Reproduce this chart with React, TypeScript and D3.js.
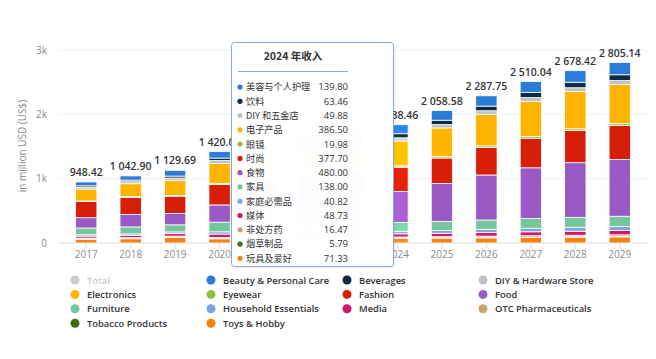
import React from "react";
import * as d3 from "d3";

const years = ["2017","2018","2019","2020","2021","2022","2023","2024","2025","2026","2027","2028","2029"];
const totals = [948.42, 1042.90, 1129.69, 1420.05, 1530.12, 1638.77, 1739.30, 1838.46, 2058.58, 2287.75, 2510.04, 2678.42, 2805.14];
const totalLabels = ["948.42","1 042.90","1 129.69","1 420.05","1 530.12","1 638.77","1 739.30","1 838.46","2 058.58","2 287.75","2 510.04","2 678.42","2 805.14"];

const seriesNames = ["Toys & Hobby","Tobacco Products","OTC Pharmaceuticals","Media","Household Essentials","Furniture","Food","Fashion","Eyewear","Electronics","DIY & Hardware Store","Beverages","Beauty & Personal Care"];
const seriesColors = ["#f5820f","#3d6b0f","#c9a071","#d4146d","#7aa7e0","#74c69d","#9b59c6","#d61f06","#8fc23a","#ffb400","#c2c2c2","#0f2a44","#2b7bd9"];

const toys = [58.42, 65.9, 88.19, 65, 68, 70, 66.6, 71.33, 75, 80, 85, 90, 95];
const tobacco = [4, 4, 4.5, 5, 5, 5.5, 5.7, 5.79, 6, 6.5, 7, 7.5, 8];
const otc = [14, 14, 15, 17, 15, 16, 16, 16.47, 18, 20, 22, 23, 24];
const media = [30, 34, 38, 52, 45, 46, 47, 48.73, 52, 56, 60, 63, 66];
const household = [22, 24, 27, 35, 35, 38, 40, 40.82, 45, 50, 55, 60, 63];
const furniture = [105, 108, 110, 150, 135, 135, 137, 138.00, 140, 145, 150, 155, 160];
const food = [160, 195, 175, 268.05, 341.12, 381.27, 440, 480.00, 590, 700, 790, 850, 880];
const fashion = [250, 265, 270, 320, 340, 355, 365, 377.70, 395, 430, 460, 500, 530];
const eyewear = [10, 11, 12, 15, 16, 18, 19, 19.98, 21, 23, 25, 27, 29];
const electronics = [185, 200, 230, 310, 330, 350, 365, 386.50, 446.58, 490.25, 548.04, 577.92, 608.14];
const diy = [28, 32, 40, 45, 45, 47, 48, 49.88, 52, 55, 58, 60, 62];
const beverages = [22, 25, 30, 38, 45, 55, 60, 63.46, 68, 72, 80, 85, 90];
const beauty = [60, 65, 90, 100, 110, 122, 130, 139.80, 150, 160, 170, 180, 190];

const seriesValues = [toys, tobacco, otc, media, household, furniture, food, fashion, eyewear, electronics, diy, beverages, beauty];

const yTicks = [0, 1000, 2000, 3000];
const yTickLabels = ["0", "1k", "2k", "3k"];

const tooltipTitle = "2024 年收入";
const tooltipLabels = ["美容与个人护理","饮料","DIY 和五金店","电子产品","眼镜","时尚","食物","家具","家庭必需品","媒体","非处方药","烟草制品","玩具及爱好"];
const tooltipValues = ["139.80","63.46","49.88","386.50","19.98","377.70","480.00","138.00","40.82","48.73","16.47","5.79","71.33"];
const tooltipColors = ["#2b7bd9","#0f2a44","#c2c2c2","#ffb400","#8fc23a","#d61f06","#9b59c6","#74c69d","#7aa7e0","#d4146d","#c9a071","#3d6b0f","#f5820f"];

const legendItems = ["Total","Beauty & Personal Care","Beverages","DIY & Hardware Store","Electronics","Eyewear","Fashion","Food","Furniture","Household Essentials","Media","OTC Pharmaceuticals","Tobacco Products","Toys & Hobby"];
const legendColors = ["#cccccc","#2b7bd9","#0f2a44","#c2c2c2","#ffb400","#8fc23a","#d61f06","#9b59c6","#74c69d","#7aa7e0","#d4146d","#c9a071","#3d6b0f","#f5820f"];

const W = 656, H = 359;
const FONT = "'Open Sans', 'Noto Sans CJK SC', sans-serif";
const CJK = "'Noto Sans CJK SC', 'Open Sans', sans-serif";

export default function App() {
  const x = d3.scaleBand<string>().domain(years).range([64, 642]).paddingInner(0.52).paddingOuter(0.26);
  const y = d3.scaleLinear().domain([0, 3000]).range([243, 50]);

  const table = years.map((yr, i) => {
    const row: any = { year: yr };
    seriesNames.forEach((n, s) => (row[n] = seriesValues[s][i]));
    return row;
  });
  const stacked = d3.stack<any>().keys(seriesNames)(table);
  const hovered = "2024";

  return (
    <svg width={W} height={H} style={{ position: "absolute", left: 0, top: 0, background: "#fff" }} fontFamily={FONT}>
      {yTicks.map((t, i) => (
        <g key={t}>
          <line x1={58} x2={648} y1={y(t)} y2={y(t)} stroke={t === 0 ? "#d8dde4" : "#eef0f3"} strokeWidth={1} />
          <text x={47} y={y(t) + 3.5} textAnchor="end" fontSize={10} fill="#8a8a8a">{yTickLabels[i]}</text>
        </g>
      ))}
      <text transform={`translate(26,146) rotate(-90)`} textAnchor="middle" fontSize={10} fill="#8a8a8a">in million USD (US$)</text>
      {years.map((yr) => (
        <g key={yr}>
          <line x1={x(yr)! + x.bandwidth() / 2} x2={x(yr)! + x.bandwidth() / 2} y1={243} y2={248} stroke="#d8dde4" />
          <text x={x(yr)! + x.bandwidth() / 2} y={258} textAnchor="middle" fontSize={10} fill="#8a8a8a">{yr}</text>
        </g>
      ))}
      {stacked.map((layer, s) => (
        <g key={layer.key}>
          {layer.map((d, i) => {
            const yr = years[i];
            const col = yr === hovered ? d3.color(seriesColors[s])!.brighter(0.25).formatHex() : seriesColors[s];
            return (
              <rect key={yr} x={x(yr)} width={x.bandwidth()} y={y(d[1])} height={Math.max(0, y(d[0]) - y(d[1]))}
                fill={col} stroke="#fff" strokeWidth={0.8} />
            );
          })}
        </g>
      ))}
      {years.map((yr, i) => (
        <text key={yr} x={x(yr)! + x.bandwidth() / 2} y={y(totals[i]) - 6} textAnchor="middle" fontSize={10.5} fontWeight={600} fill="#333">{totalLabels[i]}</text>
      ))}
      {legendItems.map((name, i) => {
        const col = i % 4, row = Math.floor(i / 4);
        const lx = 75 + col * 136, ly = 280 + row * 14.4;
        return (
          <g key={name}>
            <circle cx={lx} cy={ly} r={4.5} fill={legendColors[i]} />
            <text x={lx + 12} y={ly + 3.5} fontSize={9.4} fontWeight={600} fill={i === 0 ? "#c8c8c8" : "#333"}>{name}</text>
          </g>
        );
      })}
      <g>
        <rect x={232} y={43} width={162} height={224} rx={3} fill="#000" opacity={0.05} transform="translate(1.5,1.5)" />
        <rect x={231.5} y={42.5} width={162} height={224} rx={3} fill="#fff" fillOpacity={0.985} stroke="#86a9d8" strokeWidth={1} />
        <text x={293} y={60} textAnchor="middle" fontSize={10.5} fontWeight={700} fill="#333" fontFamily={CJK}>{tooltipTitle}</text>
        <line x1={238} x2={348} y1={71.5} y2={71.5} stroke="#86a9d8" strokeWidth={1} />
        {tooltipLabels.map((lab, i) => {
          const ty = 87 + i * 14.28;
          return (
            <g key={lab}>
              <circle cx={240} cy={ty} r={2.6} fill={tooltipColors[i]} />
              <text x={246} y={ty + 3.4} fontSize={9.2} fill="#333" fontFamily={CJK}>{lab}</text>
              <text x={348} y={ty + 3.4} textAnchor="end" fontSize={9.5} fill="#333">{tooltipValues[i]}</text>
            </g>
          );
        })}
      </g>
    </svg>
  );
}
